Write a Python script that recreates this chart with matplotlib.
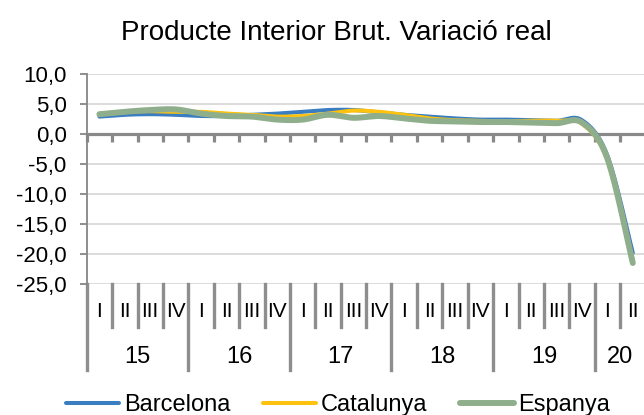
import numpy as np
import matplotlib
matplotlib.use("Agg")
from matplotlib import pyplot as plt
from matplotlib.lines import Line2D
import matplotlib.transforms as mtransforms

plt.rcParams['font.family'] = ['Liberation Sans', 'DejaVu Sans']

# data (quarterly real GDP growth, %)
years = ['15', '16', '17', '18', '19', '20']
quarters_per_year = [4, 4, 4, 4, 4, 2]
quarter_names = ['I', 'II', 'III', 'IV']

barcelona = [2.9, 3.2, 3.3, 3.2, 3.0, 3.0, 3.2, 3.4, 3.7, 4.0, 4.0, 3.6,
             3.2, 2.9, 2.6, 2.4, 2.4, 2.3, 2.2, 2.3, -3.6, -19.8]
catalunya = [3.4, 3.7, 3.8, 3.7, 3.7, 3.4, 3.2, 2.9, 3.0, 3.4, 3.9, 3.7,
             3.2, 2.6, 2.3, 2.2, 2.1, 2.2, 2.2, 1.7, -4.3, -21.1]
espanya = [3.3, 3.7, 4.0, 4.1, 3.4, 3.0, 2.9, 2.4, 2.4, 3.2, 2.7, 3.0,
           2.6, 2.2, 2.1, 2.0, 2.0, 1.9, 1.8, 1.9, -4.1, -21.5]

series = [("Barcelona", barcelona, "#3A7DC0", 2.9),
          ("Catalunya", catalunya, "#FFC20E", 2.9),
          ("Espanya", espanya, "#8FAF8C", 4.3)]


def smooth(x, y, n=20):
    # excel style smoothed line (bezier through the points)
    x = np.asarray(x, float)
    y = np.asarray(y, float)
    px = np.concatenate([[x[0]], x, [x[-1]]])
    py = np.concatenate([[y[0]], y, [y[-1]]])
    xs, ys = [], []
    t = np.linspace(0, 1, n)
    for i in range(1, len(px) - 2):
        p0 = np.array([px[i], py[i]])
        p3 = np.array([px[i + 1], py[i + 1]])
        p1 = p0 + (np.array([px[i + 1], py[i + 1]]) - np.array([px[i - 1], py[i - 1]])) / 6
        p2 = p3 - (np.array([px[i + 2], py[i + 2]]) - np.array([px[i], py[i]])) / 6
        b = ((1 - t) ** 3)[:, None] * p0 + (3 * (1 - t) ** 2 * t)[:, None] * p1 \
            + (3 * (1 - t) * t ** 2)[:, None] * p2 + (t ** 3)[:, None] * p3
        xs.extend(b[:, 0])
        ys.extend(b[:, 1])
    return np.array(xs), np.array(ys)


fig = plt.figure(figsize=(6.44, 4.15), dpi=100)
ax = fig.add_axes([86.7 / 644, 1 - 284 / 415, (645.5 - 86.7) / 644, 210 / 415])

n = len(barcelona)
xpos = np.arange(n) + 0.5
for name, vals, col, lw in series:
    sx, sy = smooth(xpos, vals)
    ax.plot(sx, sy, color=col, lw=lw, label=name, solid_capstyle='round', zorder=3)

ax.set_xlim(0, n)
ax.set_ylim(-25, 10)
ax.set_yticks(np.arange(-25, 11, 5))
ax.set_yticklabels([f"{v:.1f}".replace('.', ',') for v in np.arange(-25, 11, 5)], fontsize=16)
ax.grid(axis='y', color='#D9D9D9', lw=1.3, zorder=0)
ax.set_axisbelow(True)

ax.spines['top'].set_visible(False)
ax.spines['right'].set_visible(False)
ax.spines['left'].set_color('#868686')
ax.spines['left'].set_linewidth(1.3)
ax.spines['bottom'].set_position(('data', 0))
ax.spines['bottom'].set_color('#898989')
ax.spines['bottom'].set_linewidth(2.3)
ax.spines['bottom'].set_zorder(2)

ax.set_xticks(np.arange(n + 1))
ax.set_xticklabels([])
ax.tick_params(axis='x', direction='out', length=5.5, width=2.3, color='#898989')
ax.tick_params(axis='y', direction='out', length=5, width=1.3, color='#868686', pad=9.5)

# multi level category axis under the plot
trans = mtransforms.blended_transform_factory(ax.transData, ax.transAxes)
sep_col = '#8E8E8E'
pos = 0
for yr, nq in zip(years, quarters_per_year):
    for q in range(nq):
        ax.text(pos + q + 0.5, -0.1286, quarter_names[q], transform=trans,
                ha='center', va='center', fontsize=15)
        if q > 0:
            ax.add_line(Line2D([pos + q, pos + q], [0, -0.2048], transform=trans,
                               color=sep_col, lw=2.4, clip_on=False))
    ax.add_line(Line2D([pos, pos], [0, -0.4095], transform=trans,
                       color=sep_col, lw=2.4, clip_on=False))
    ax.text(pos + nq / 2, -0.3476, yr, transform=trans, ha='center', va='center', fontsize=17)
    pos += nq
ax.add_line(Line2D([pos, pos], [0, -0.4095], transform=trans,
                   color=sep_col, lw=2.4, clip_on=False))

fig.text(336 / 644, 1 - 33 / 415, "Producte Interior Brut. Variació real",
         ha='center', va='center', fontsize=20)

fig.legend(loc='center', bbox_to_anchor=(338 / 644, 1 - 405 / 415), ncol=3,
           frameon=False, fontsize=17, handlelength=2.25, handletextpad=0.2,
           columnspacing=1.4, borderpad=0, borderaxespad=0)

fig.savefig("out.png", dpi=100)
